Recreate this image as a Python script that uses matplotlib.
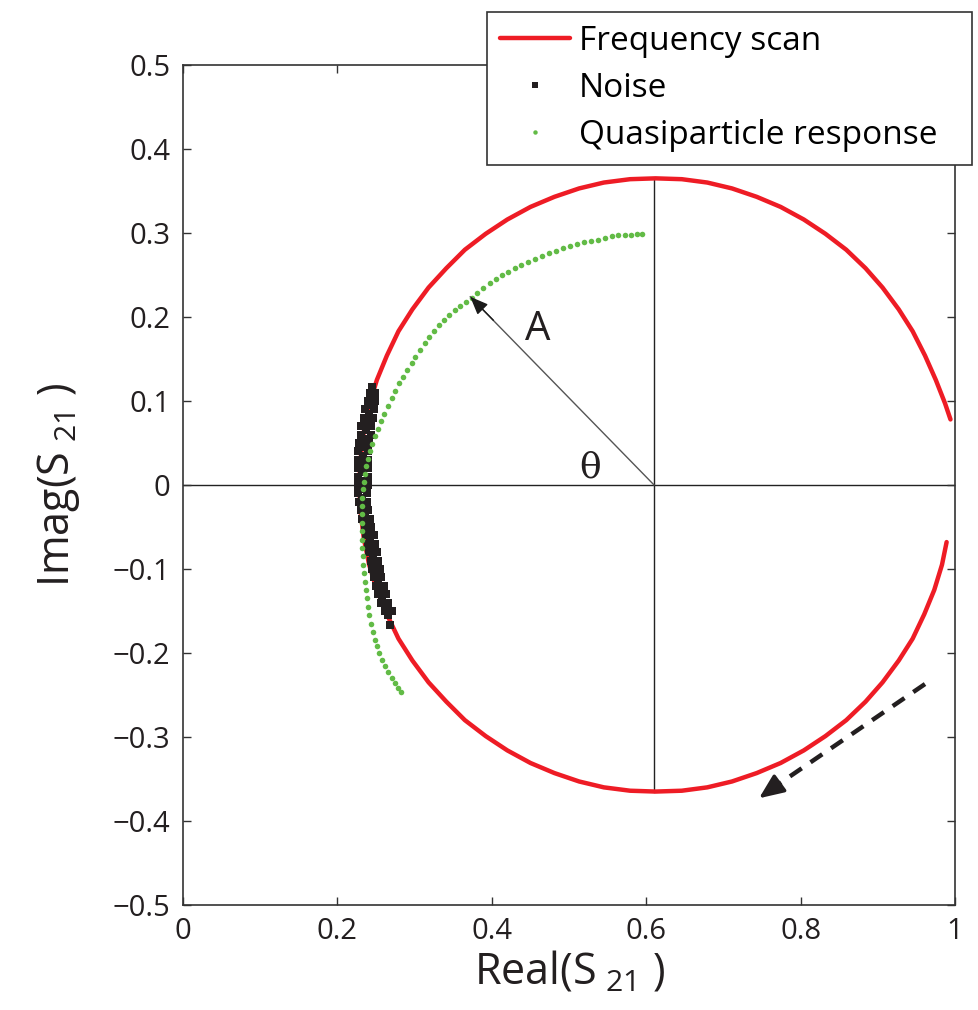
import matplotlib
matplotlib.use("Agg")
import matplotlib.pyplot as plt

plt.rcParams['font.family'] = ['Open Sans', 'DejaVu Sans']
plt.rcParams['mathtext.fontset'] = 'custom'
plt.rcParams['mathtext.rm'] = 'Open Sans'
plt.rcParams['mathtext.it'] = 'Open Sans'

# frequency scan (resonance circle)
scan_x = [0.994, 0.987, 0.975, 0.961, 0.945, 0.927, 0.906, 0.884, 0.859, 0.832, 0.804, 0.774,
          0.743, 0.711, 0.679, 0.646, 0.612, 0.579, 0.545, 0.513, 0.481, 0.450, 0.420, 0.392,
          0.365, 0.341, 0.318, 0.297, 0.279, 0.264, 0.251, 0.241, 0.234, 0.230, 0.228, 0.230,
          0.234, 0.241, 0.251, 0.264, 0.279, 0.297, 0.318, 0.341, 0.365, 0.392, 0.420, 0.450,
          0.481, 0.513, 0.545, 0.579, 0.612, 0.646, 0.679, 0.711, 0.743, 0.774, 0.804, 0.832,
          0.859, 0.884, 0.906, 0.927, 0.945, 0.960, 0.973, 0.983, 0.989]
scan_y = [0.078, 0.097, 0.125, 0.154, 0.183, 0.209, 0.235, 0.258, 0.280, 0.299, 0.316, 0.331,
          0.343, 0.353, 0.360, 0.364, 0.365, 0.364, 0.360, 0.353, 0.343, 0.331, 0.316, 0.299,
          0.280, 0.258, 0.235, 0.209, 0.183, 0.154, 0.125, 0.095, 0.063, 0.032, 0.000, -0.032,
          -0.063, -0.095, -0.125, -0.154, -0.183, -0.209, -0.235, -0.258, -0.280, -0.299, -0.316, -0.331,
          -0.343, -0.353, -0.360, -0.364, -0.365, -0.364, -0.360, -0.353, -0.343, -0.331, -0.316, -0.299,
          -0.280, -0.258, -0.235, -0.209, -0.183, -0.154, -0.125, -0.095, -0.068]

# noise blob: left, middle and right edge of the band at each level
noise_y = [0.117, 0.11, 0.10, 0.09, 0.08, 0.07, 0.06, 0.05, 0.04, 0.03, 0.02, 0.01, 0.00,
           -0.01, -0.02, -0.03, -0.04, -0.05, -0.06, -0.07, -0.08, -0.09, -0.10, -0.11,
           -0.12, -0.13, -0.14, -0.15, -0.167]
noise_x_left = [0.245, 0.242, 0.239, 0.236, 0.234, 0.231, 0.230, 0.228, 0.227, 0.227, 0.226,
                0.226, 0.226, 0.227, 0.228, 0.230, 0.232, 0.235, 0.237, 0.239, 0.241, 0.243,
                0.245, 0.247, 0.250, 0.253, 0.257, 0.261, 0.268]
noise_x_mid = [0.245, 0.245, 0.243, 0.241, 0.240, 0.237, 0.236, 0.234, 0.233, 0.233, 0.232,
               0.232, 0.232, 0.232, 0.233, 0.235, 0.237, 0.239, 0.242, 0.244, 0.246, 0.248,
               0.250, 0.252, 0.255, 0.258, 0.261, 0.265, 0.268]
noise_x_right = [0.245, 0.248, 0.248, 0.247, 0.246, 0.244, 0.243, 0.241, 0.240, 0.239, 0.239,
                 0.239, 0.239, 0.238, 0.238, 0.240, 0.242, 0.244, 0.247, 0.249, 0.251, 0.253,
                 0.255, 0.257, 0.260, 0.263, 0.266, 0.270, 0.268]

# quasiparticle response
qp_x = [0.595, 0.588, 0.580, 0.572, 0.563, 0.555, 0.546, 0.537, 0.528, 0.519, 0.510, 0.501,
        0.492, 0.483, 0.474, 0.465, 0.456, 0.447, 0.438, 0.430, 0.421, 0.413, 0.405, 0.397,
        0.389, 0.381, 0.374, 0.366, 0.359, 0.352, 0.345, 0.338, 0.332, 0.325, 0.319, 0.313,
        0.307, 0.301, 0.296, 0.290, 0.285, 0.280, 0.275, 0.270, 0.265, 0.260, 0.256, 0.252,
        0.248, 0.245, 0.242, 0.239, 0.237, 0.235, 0.234, 0.233, 0.232, 0.232, 0.232, 0.232,
        0.232, 0.232, 0.232, 0.233, 0.233, 0.234, 0.235, 0.237, 0.238, 0.239, 0.241, 0.243,
        0.246, 0.248, 0.251, 0.254, 0.258, 0.262, 0.266, 0.271, 0.275, 0.279, 0.282]
qp_y = [0.299, 0.299, 0.298, 0.297, 0.297, 0.296, 0.294, 0.292, 0.291, 0.289, 0.287, 0.284,
        0.282, 0.279, 0.276, 0.272, 0.269, 0.266, 0.262, 0.258, 0.254, 0.250, 0.245, 0.240,
        0.235, 0.229, 0.223, 0.218, 0.213, 0.208, 0.202, 0.196, 0.190, 0.183, 0.176, 0.169,
        0.161, 0.152, 0.145, 0.137, 0.129, 0.121, 0.112, 0.103, 0.094, 0.085, 0.076, 0.067,
        0.058, 0.049, 0.040, 0.031, 0.022, 0.013, 0.004, -0.005, -0.015, -0.025, -0.035, -0.045,
        -0.055, -0.065, -0.075, -0.085, -0.095, -0.105, -0.115, -0.125, -0.135, -0.145, -0.155, -0.165,
        -0.175, -0.184, -0.192, -0.200, -0.208, -0.216, -0.223, -0.230, -0.236, -0.242, -0.247]

center = (0.61, 0.0)
arrow_tip = (0.372, 0.224)
scan_dir_start = (0.961, -0.237)
scan_dir_end = (0.746, -0.373)

fig = plt.figure(figsize=(9.79, 10.10), dpi=100)
ax = fig.add_axes([0.187, 0.104, 0.7886, 0.8317])

# crosshair through the circle centre
ax.axhline(0, color='#222222', lw=1.0, zorder=1)
ax.plot([center[0], center[0]], [-0.365, 0.365], color='#222222', lw=1.0, zorder=1)

ax.plot(scan_x, scan_y, color='#ee1c25', lw=3.2, solid_capstyle='round',
        solid_joinstyle='round', label='Frequency scan', zorder=2)
noise_ms = 5.8
ax.plot(noise_x_left + noise_x_right, noise_y + noise_y, 's', color='#231f20',
        ms=noise_ms, mew=0, label='Noise', zorder=3)
ax.plot(noise_x_mid[1:-1], [v - 0.005 for v in noise_y[1:-1]], 's', color='#231f20',
        ms=noise_ms, mew=0, zorder=3)
ax.plot(qp_x, qp_y, 'o', color='#62bb46', ms=4.0, mew=0,
        label='Quasiparticle response', zorder=4)

# amplitude arrow
ax.plot([center[0], arrow_tip[0]], [center[1], arrow_tip[1]], color='#555555', lw=1.0, zorder=5)
ax.annotate('', xy=arrow_tip, xytext=(arrow_tip[0] + 0.03, arrow_tip[1] - 0.028),
            arrowprops=dict(arrowstyle='-|>,head_length=1.1,head_width=0.45',
                            color='#1a1a1a', lw=1.0, shrinkA=0, shrinkB=0), zorder=6)
ax.text(0.46, 0.185, 'A', fontsize=29, ha='center', va='center', color='#231f20')
ax.text(0.527, 0.021, 'θ', fontsize=26, ha='center', va='center', color='#231f20',
        family='DejaVu Serif')

# scan direction: dashed shaft plus a solid head
head_base = (scan_dir_end[0] + 0.024, scan_dir_end[1] + 0.016)
ax.plot([scan_dir_start[0], head_base[0]], [scan_dir_start[1], head_base[1]],
        color='#231f20', lw=3.2, linestyle=(0, (3.2, 2.4)), dash_capstyle='butt')
ax.annotate('', xy=scan_dir_end, xytext=head_base,
            arrowprops=dict(arrowstyle='-|>,head_length=0.75,head_width=0.32',
                            mutation_scale=20, color='#231f20', lw=2.5,
                            shrinkA=0, shrinkB=0))

ax.set_xlim(0, 1)
ax.set_ylim(-0.5, 0.5)
ax.set_xticks([0, 0.2, 0.4, 0.6, 0.8, 1])
ax.set_xticklabels(['0', '0.2', '0.4', '0.6', '0.8', '1'])
ax.set_yticks([-0.5, -0.4, -0.3, -0.2, -0.1, 0, 0.1, 0.2, 0.3, 0.4, 0.5])
ax.set_yticklabels(['\u22120.5', '\u22120.4', '\u22120.3', '\u22120.2', '\u22120.1', '0',
                    '0.1', '0.2', '0.3', '0.4', '0.5'])
ax.tick_params(direction='in', length=6, width=1.0, labelsize=21, pad=9,
               top=True, right=True, colors='#333333', labelcolor='#231f20')
for s in ax.spines.values():
    s.set_color('#333333')
    s.set_linewidth(1.2)

ax.set_xlabel(r'Real(S$_{\ 21}$ )', fontsize=31, color='#231f20', labelpad=2)
ax.set_ylabel(r'Imag(S$_{\ 21}$ )', fontsize=31, color='#231f20', labelpad=22)

leg = ax.legend(loc='upper left', bbox_to_anchor=(0.3938, 0.8833, 0.628, 0.18),
                mode='expand', fontsize=24, fancybox=False, edgecolor='#333333',
                framealpha=1, handlelength=2.1, handletextpad=0.25, labelspacing=0.42,
                borderpad=0.4, borderaxespad=0, markerscale=0.8)
leg.get_frame().set_linewidth(1.2)
leg.set_zorder(10)

fig.savefig('out.png', dpi=100)
